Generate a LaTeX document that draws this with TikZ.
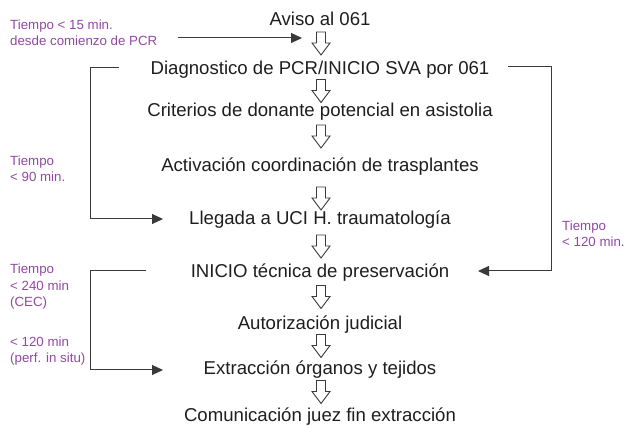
\documentclass[tikz,border=0pt]{standalone}
\usepackage{fontspec}
\setmainfont{Liberation Sans}
\usetikzlibrary{arrows.meta, positioning, calc}
\definecolor{timepurple}{RGB}{146,72,163}
\definecolor{linegray}{RGB}{58,58,58}
\definecolor{textgray}{RGB}{30,30,30}

\tikzset{
	flowdown/.pic={
		\draw[draw=linegray, line width=0.9pt, fill=white, line join=miter]
			(-4.5,-11.5) -- (4.5,-11.5) -- (4.5,-0.5) -- (9,-0.5) -- (0,11.5)
			-- (-9,-0.5) -- (-4.5,-0.5) -- cycle;
	}
}

\begin{document}
\begin{tikzpicture}[
		x=1pt, y=-1pt,
		stepbox/.style={inner sep=0pt, anchor=base, text=textgray,
			font=\fontsize{18.6}{22}\selectfont},
		timelabel/.style={inner sep=0pt, anchor=base west, align=left,
			text=timepurple, font=\fontsize{13.3}{16.4}\selectfont},
		timeline/.style={draw=linegray, line width=1pt,
			-{Triangle[length=11pt,width=10pt]}}
	]
	\useasboundingbox (0,0) rectangle (624,427);

	% steps
	\node[stepbox] (aviso) at (320,26) {Aviso al 061};
	\node[stepbox] (diag) at (320,75) {Diagnostico de PCR/INICIO SVA por 061};
	\node[stepbox] (crit) at (320,117) {Criterios de donante potencial en asistolia};
	\node[stepbox] (activ) at (320,172) {Activación coordinación de trasplantes};
	\node[stepbox] (llegada) at (320,225) {Llegada a UCI H. traumatología};
	\node[stepbox] (inicio) at (320,278) {INICIO técnica de preservación};
	\node[stepbox] (autor) at (320,330) {Autorización judicial};
	\node[stepbox] (extrac) at (320,375) {Extracción órganos y tejidos};
	\node[stepbox] (comun) at (320,421) {Comunicación juez fin extracción};

	% hollow arrows between steps
	\pic (a1) at (321,43.5) {flowdown};
	\pic (a2) at (321,91) {flowdown};
	\pic (a3) at (321,136.5) {flowdown};
	\pic (a4) at (321,198.5) {flowdown};
	\pic (a5) at (321,246.5) {flowdown};
	\pic (a6) at (321,297) {flowdown};
	\pic (a7) at (321,346) {flowdown};
	\pic (a8) at (321,392) {flowdown};

	% time labels (base = last line)
	\node[timelabel] (t15) at (10,46) {Tiempo < 15 min.\\desde comienzo de PCR};
	\node[timelabel] (t90) at (10,181.5) {Tiempo\\< 90 min.};
	\node[timelabel] (t240) at (10,306.5) {Tiempo\\< 240 min\\(CEC)};
	\node[timelabel] (t120s) at (10,363) {< 120 min\\(perf. in situ)};
	\node[timelabel] (t120) at (562,246.5) {Tiempo\\< 120 min.};

	% connector ends
	\coordinate (s15) at (178,38);
	\coordinate (e15) at (302,38);
	\coordinate (s90) at (119,68);
	\coordinate (e90) at (163,219);
	\coordinate (s120) at (508,67);
	\coordinate (e120) at (478,271);
	\coordinate (s240) at (146,271);
	\coordinate (e240) at (163,370);

	\draw[timeline] (s15) -- (e15);
	\draw[timeline] (s90) -- (90,68) |- (e90);
	\draw[timeline] (s120) -- (551,67) |- (e120);
	\draw[timeline] (s240) -- (90,271) |- (e240);
\end{tikzpicture}
\end{document}
